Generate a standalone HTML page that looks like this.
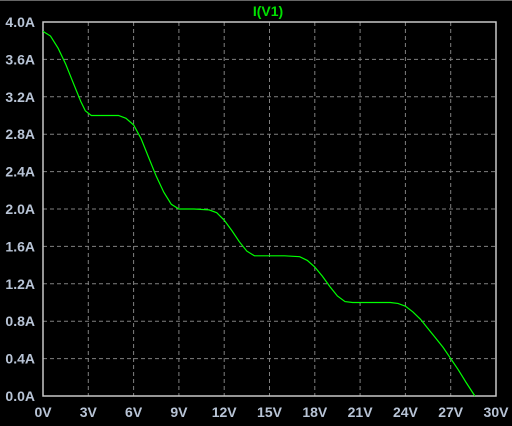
<!DOCTYPE html>
<html><head><meta charset="utf-8"><style>
html,body{margin:0;padding:0;background:#000;}
svg{display:block;}
text{font-family:"Liberation Sans",sans-serif;font-weight:bold;font-size:14px;fill:#b8c4d6;}
</style></head><body>
<svg id="chart" width="512" height="426">
<rect x="0" y="0" width="512" height="426" fill="#000"/>
<line x1="0" y1="0.5" x2="512" y2="0.5" stroke="#666"/>
<text x="268" y="16" text-anchor="middle" style="fill:#00e000">I(V1)</text>
<g id="grid"></g><g id="ticks"></g>
<rect x="43" y="22" width="453" height="374" fill="none" stroke="#c8c8c8" stroke-width="1.5"/>
<path id="curve" fill="none" stroke="#00ff00" stroke-width="1.2"/>
</svg>
<script>
const xTicks=[0,3,6,9,12,15,18,21,24,27,30];
const yTicks=[0,0.4,0.8,1.2,1.6,2.0,2.4,2.8,3.2,3.6,4.0];
const voltage=[0,0.5,1,1.5,2,2.5,2.8,3.2,4,5,5.5,6,6.5,7,7.5,8,8.5,9,10,11,11.5,12,12.5,13,13.5,14,15,16,17,17.5,18,18.5,19,19.5,20,20.5,22,23,23.5,24,24.5,25,25.5,26,26.5,27,27.5,28,28.6];
const current=[3.9,3.85,3.72,3.55,3.35,3.15,3.05,3.0,3.0,3.0,2.97,2.9,2.75,2.55,2.35,2.18,2.05,2.0,2.0,1.99,1.96,1.88,1.77,1.65,1.55,1.5,1.5,1.5,1.49,1.45,1.38,1.28,1.17,1.07,1.01,1.0,1.0,1.0,0.99,0.96,0.9,0.82,0.72,0.62,0.52,0.4,0.28,0.15,0.0];
const X0=43,X1=496,Y0=396,Y1=22;
const xs=v=>X0+(v-0)/(30-0)*(X1-X0);
const ys=a=>Y0-(a-0)/(4-0)*(Y0-Y1);
const NS="http://www.w3.org/2000/svg";
const grid=document.getElementById('grid'),ticks=document.getElementById('ticks');
xTicks.forEach(v=>{
  const x=xs(v);
  if(v>0&&v<30){const l=document.createElementNS(NS,'line');
  l.setAttribute('x1',x);l.setAttribute('x2',x);l.setAttribute('y1',Y1);l.setAttribute('y2',Y0);
  l.setAttribute('stroke','#808080');l.setAttribute('stroke-dasharray','4,3');
  
  
  grid.appendChild(l);}
  const t=document.createElementNS(NS,'text');
  t.setAttribute('x',x);t.setAttribute('y',417);t.setAttribute('text-anchor','middle');
  t.textContent=v+'V';
  
  
  ticks.appendChild(t);
});
yTicks.forEach(a=>{
  const y=ys(a);
  if(a>0&&a<4){const l=document.createElementNS(NS,'line');
  l.setAttribute('x1',X0);l.setAttribute('x2',X1);l.setAttribute('y1',y);l.setAttribute('y2',y);
  l.setAttribute('stroke','#808080');l.setAttribute('stroke-dasharray','4,3');
  
  
  grid.appendChild(l);}
  const t=document.createElementNS(NS,'text');
  t.setAttribute('x',35);t.setAttribute('y',y+5);t.setAttribute('text-anchor','end');
  t.textContent=a.toFixed(1)+'A';
  
  
  ticks.appendChild(t);
});
document.getElementById('curve').setAttribute('d',voltage.map((v,i)=>(i?'L':'M')+xs(v).toFixed(1)+','+ys(current[i]).toFixed(1)).join(''));
</script>
</body></html>
